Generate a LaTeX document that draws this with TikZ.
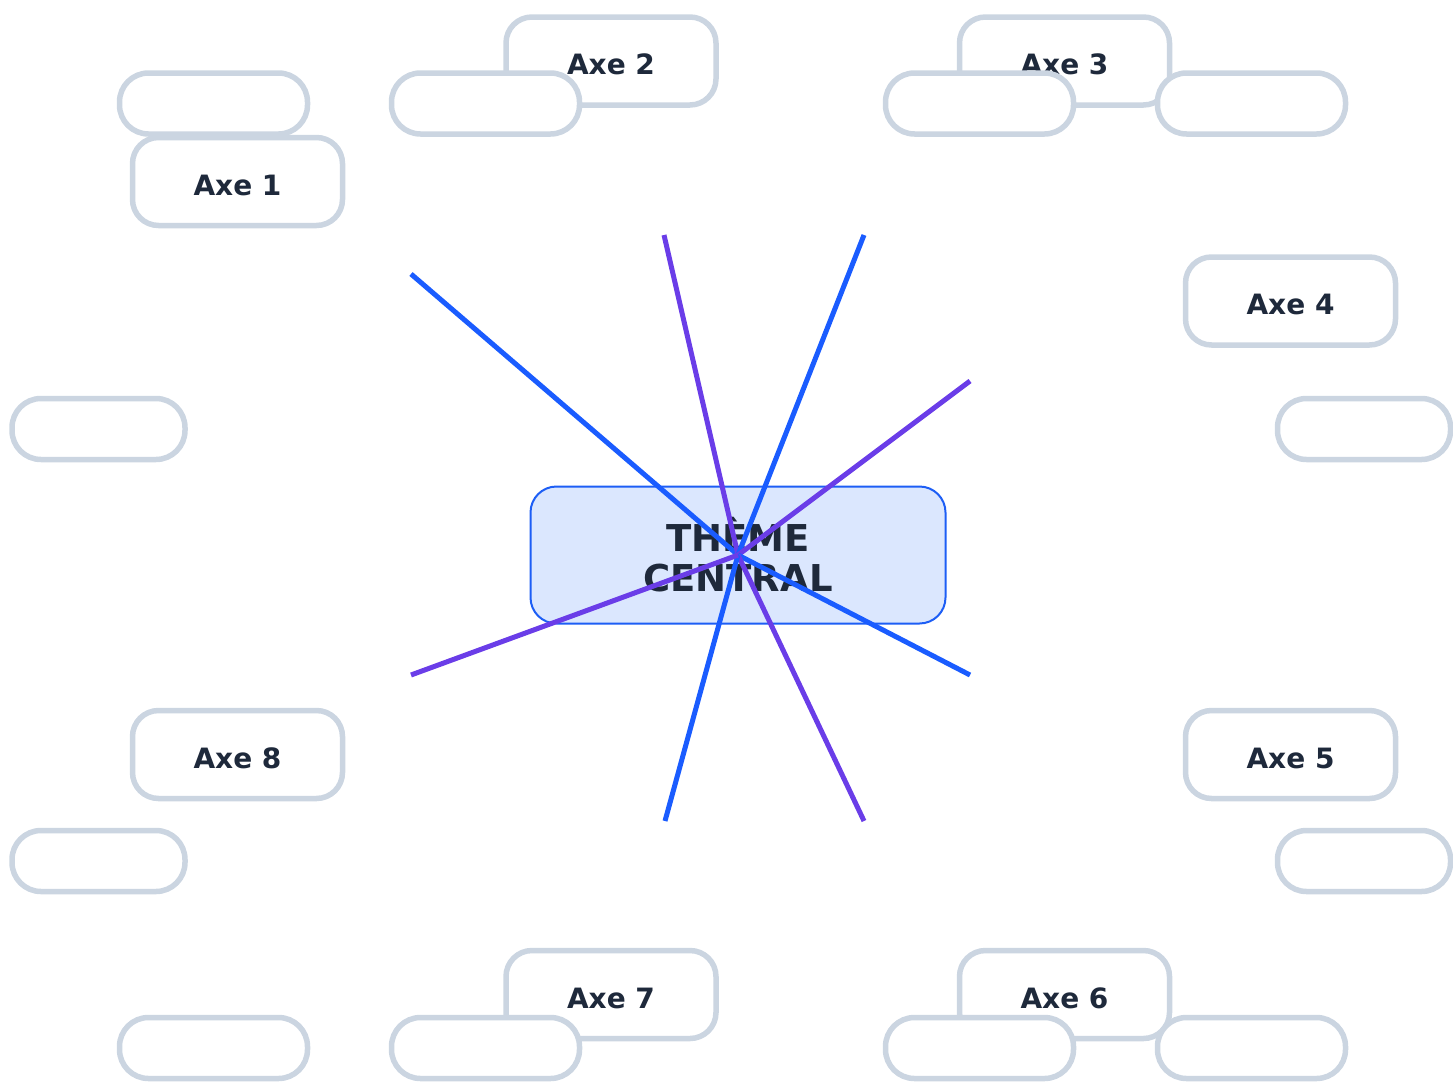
\documentclass[tikz,border=0pt]{standalone}
\usepackage{fontspec}
\setmainfont{DejaVu Sans}
\usepackage{tikz}
\definecolor{themefill}{HTML}{DBE7FE}
\definecolor{themeedge}{HTML}{1D5EF5}
\definecolor{inkdark}{HTML}{1E293B}
\definecolor{boxedge}{HTML}{CBD5E1}
\definecolor{rayblue}{HTML}{1A5CFF}
\definecolor{raypurple}{HTML}{6A3DE8}
\tikzset{
	theme/.style={draw=themeedge, line width=2pt, fill=themefill, rounded corners=26pt,
		minimum width=415pt, minimum height=137pt, align=center, text=inkdark,
		font=\fontsize{37}{40}\selectfont\bfseries},
	axebox/.style={draw=boxedge, line width=5.5pt, fill=white, rounded corners=26pt,
		minimum width=210pt, minimum height=88pt, text=inkdark,
		text height=27pt, text depth=0pt,
		font=\fontsize{28}{32}\selectfont\bfseries},
	leafbox/.style={draw=boxedge, line width=5.5pt, fill=white, rounded corners=29pt,
		minimum width=188pt, minimum height=61pt},
	edgeleaf/.style={leafbox, minimum width=173pt},
	bluray/.style={rayblue, line width=5pt},
	purpray/.style={raypurple, line width=5pt}
}

\begin{document}
\begin{tikzpicture}[x=1pt, y=-1pt]
			%%%%% START %%%%%
			\useasboundingbox (0, 0) rectangle (1453, 1082);
			
			\node[theme] (theme) at (738, 555) {THÈME\\CENTRAL};
			
			\coordinate (r1) at (411, 274);
			\coordinate (r2) at (664, 235);
			\coordinate (r3) at (864, 235);
			\coordinate (r4) at (970, 381);
			\coordinate (r5) at (970, 675);
			\coordinate (r6) at (864, 821);
			\coordinate (r7) at (665, 821);
			\coordinate (r8) at (411, 675);
			
			\draw[bluray] (theme.center) -- (r1);
			\draw[purpray] (theme.center) -- (r2);
			\draw[bluray] (theme.center) -- (r3);
			\draw[purpray] (theme.center) -- (r4);
			\draw[bluray] (theme.center) -- (r5);
			\draw[purpray] (theme.center) -- (r6);
			\draw[bluray] (theme.center) -- (r7);
			\draw[purpray] (theme.center) -- (r8);
			
			\node[leafbox] (leaf1) at (213.5, 103.5) {};
			\node[axebox] (axe1) at (237.5, 181.5) {Axe 1};
			\node[axebox] (axe2) at (611, 61) {Axe 2};
			\node[axebox] (axe3) at (1064.5, 61) {Axe 3};
			\node[axebox] (axe4) at (1290.5, 301) {Axe 4};
			\node[axebox] (axe5) at (1290.5, 754.5) {Axe 5};
			\node[axebox] (axe6) at (1064.5, 994.5) {Axe 6};
			\node[axebox] (axe7) at (611, 994.5) {Axe 7};
			\node[axebox] (axe8) at (237.5, 754.5) {Axe 8};
			
			\node[leafbox] (leaf2) at (485.5, 103.5) {};
			\node[leafbox] (leaf3) at (979.5, 103.5) {};
			\node[leafbox] (leaf4) at (1251.5, 103.5) {};
			\node[edgeleaf] (leaf5) at (98.5, 429) {};
			\node[edgeleaf] (leaf6) at (1364, 429) {};
			\node[edgeleaf] (leaf7) at (98.5, 861) {};
			\node[edgeleaf] (leaf8) at (1364, 861) {};
			\node[leafbox] (leaf9) at (213.5, 1048) {};
			\node[leafbox] (leaf10) at (485.5, 1048) {};
			\node[leafbox] (leaf11) at (979.5, 1048) {};
			\node[leafbox] (leaf12) at (1251.5, 1048) {};
			
			%%%%% END %%%%%
\end{tikzpicture}
\end{document}
